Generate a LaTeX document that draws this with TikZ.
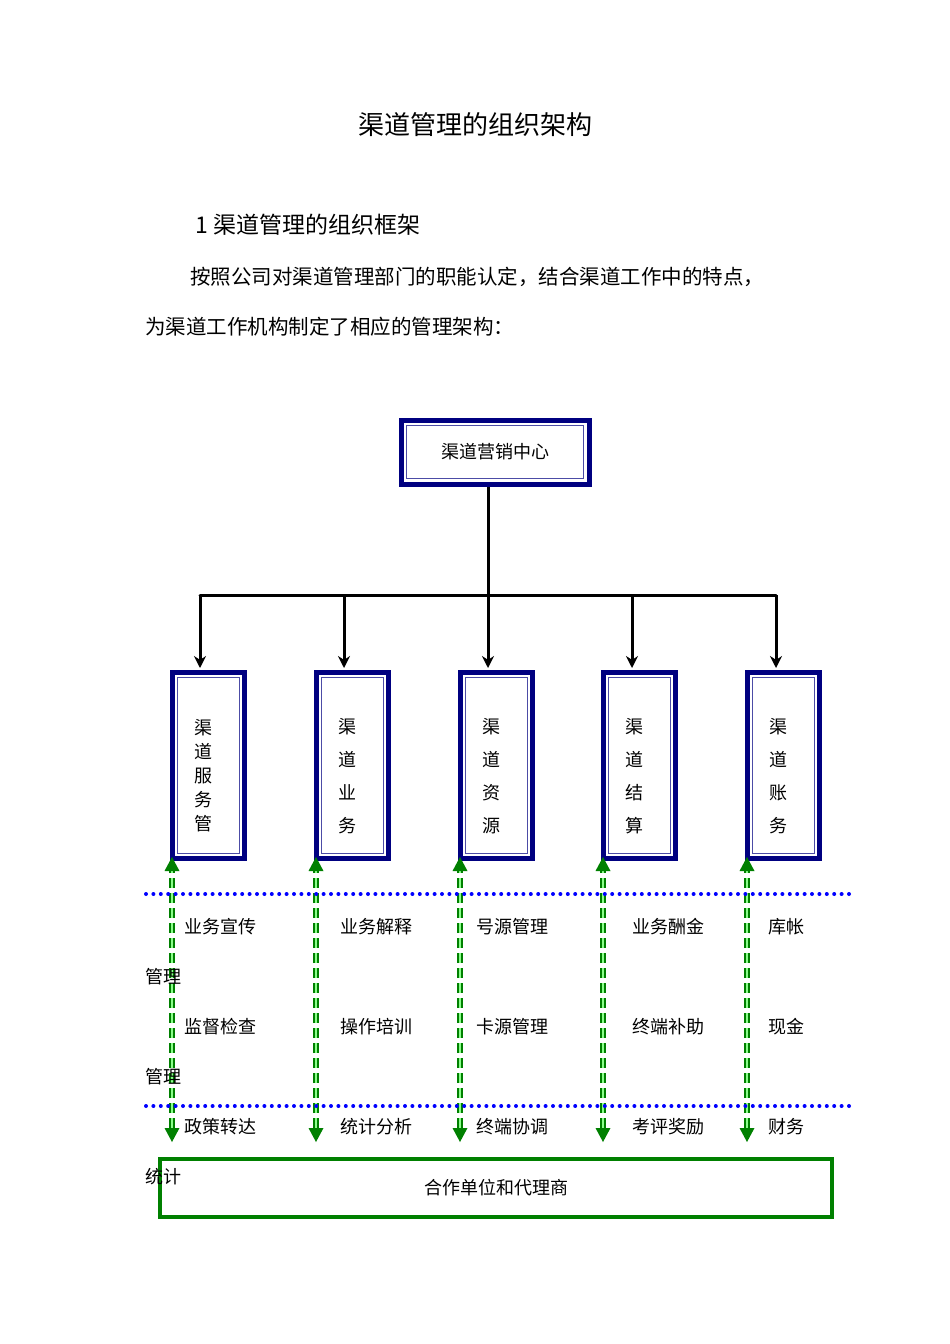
\documentclass[tikz,border=0pt]{standalone}
\usepackage{fontspec}
\setmainfont{Noto Sans CJK SC}
\usetikzlibrary{arrows.meta,calc}
\definecolor{navy}{RGB}{0,0,128}
\definecolor{gr}{RGB}{0,128,0}
\begin{document}
\begin{tikzpicture}[x=1pt,y=-1pt,
  outerb/.style={draw=navy,line width=5pt},
  innerb/.style={draw=navy!70,line width=1.2pt},
  vbox/.style={outerb,minimum width=72pt,minimum height=186pt,anchor=north west,inner sep=0pt},
  blk/.style={line width=3pt,-{Stealth[length=12pt,width=12pt]}},
  garrow/.style={draw=gr,double=green!45!white,double distance=2.5pt,line width=1.3pt,dash pattern=on 10pt off 5pt,{Triangle[length=14pt,width=15pt,fill=gr,color=gr,line width=0pt]}-{Triangle[length=14pt,width=15pt,fill=gr,color=gr,line width=0pt]}},
  dotl/.style={draw=blue,line width=4pt,line cap=round,dash pattern=on 0pt off 7.4pt},
  lab/.style={anchor=west,inner sep=0pt,font=\fontsize{18}{18}\selectfont},
  vt/.style={font=\fontsize{18}{18}\selectfont,align=center}]
\useasboundingbox (0,0) rectangle (950,1344);
\node (title) at (475,125) {\fontsize{26}{26}\selectfont 渠道管理的组织架构};
\node[anchor=west,inner sep=0pt] (h1) at (195,225) {\fontsize{23}{23}\selectfont 1 渠道管理的组织框架};
\node[anchor=west,inner sep=0pt] (p1) at (190,277) {\fontsize{20.5}{20.5}\selectfont 按照公司对渠道管理部门的职能认定，结合渠道工作中的特点，};
\node[anchor=west,inner sep=0pt] (p2) at (145,327) {\fontsize{20.5}{20.5}\selectfont 为渠道工作机构制定了相应的管理架构：};

\node[outerb,minimum width=188pt,minimum height=64pt,font=\fontsize{18}{18}\selectfont] (top) at (495,452) {渠道营销中心};
\draw[innerb] ($(top.north west)+(8,8)$) rectangle ($(top.south east)+(-8,-8)$);
\coordinate (j) at (488,595);
\coordinate (jl) at (200,595);
\coordinate (jr) at (776,595);
\draw[line width=3pt] (top.south -| j) -- (j);
\draw[line width=3pt,line cap=round] (jl) -- (jr);

\foreach \i/\x in {1/170,2/314,3/458,4/601,5/745}{
  \node[vbox] (b\i) at (\x,670) {};
  \draw[innerb] ($(b\i.north west)+(7.5,7.5)$) rectangle ($(b\i.south east)+(-7.5,-7.5)$);
}
\foreach \i/\x in {1/200,2/344,3/488,4/632,5/776}{
  \coordinate (t\i) at (\x,595);
  \draw[blk] (t\i) -- (\x,668);
}
\node[vt] (v1) at (203,776) {渠\\[6pt]道\\[6pt]服\\[6pt]务\\[6pt]管};
\node[vt] (v2) at (347,776) {渠\\[15pt]道\\[15pt]业\\[15pt]务};
\node[vt] (v3) at (491,776) {渠\\[15pt]道\\[15pt]资\\[15pt]源};
\node[vt] (v4) at (634,776) {渠\\[15pt]道\\[15pt]结\\[15pt]算};
\node[vt] (v5) at (778,776) {渠\\[15pt]道\\[15pt]账\\[15pt]务};

\foreach \i/\x in {1/172,2/316,3/460,4/603,5/747}{
  \coordinate (s\i) at (\x,857);
  \coordinate (e\i) at (\x,1142);
  \draw[garrow] (e\i) -- (s\i);
}
\coordinate (d1a) at (146,894); \coordinate (d1b) at (855,894);
\coordinate (d2a) at (146,1106); \coordinate (d2b) at (855,1106);
\draw[dotl] (d1a) -- (d1b);
\draw[dotl] (d2a) -- (d2b);

\node[lab] (a1) at (184,927) {业务宣传};
\node[lab] (a2) at (340,927) {业务解释};
\node[lab] (a3) at (476,927) {号源管理};
\node[lab] (a4) at (632,927) {业务酬金};
\node[lab] (a5) at (768,927) {库帐};
\node[lab] (b1l) at (184,1027) {监督检查};
\node[lab] (b2l) at (340,1027) {操作培训};
\node[lab] (b3l) at (476,1027) {卡源管理};
\node[lab] (b4l) at (632,1027) {终端补助};
\node[lab] (b5l) at (768,1027) {现金};
\node[lab] (c1) at (184,1127) {政策转达};
\node[lab] (c2) at (340,1127) {统计分析};
\node[lab] (c3) at (476,1127) {终端协调};
\node[lab] (c4) at (632,1127) {考评奖励};
\node[lab] (c5) at (768,1127) {财务};
\node[lab] (m1) at (145,977) {管理};
\node[lab] (m2) at (145,1077) {管理};

\node[draw=gr,line width=4.5pt,minimum width=672pt,minimum height=58pt,font=\fontsize{18}{18}\selectfont] (coop) at (496,1188) {合作单位和代理商};
\node[lab] (m3) at (145,1177) {统计};
\end{tikzpicture}
\end{document}
